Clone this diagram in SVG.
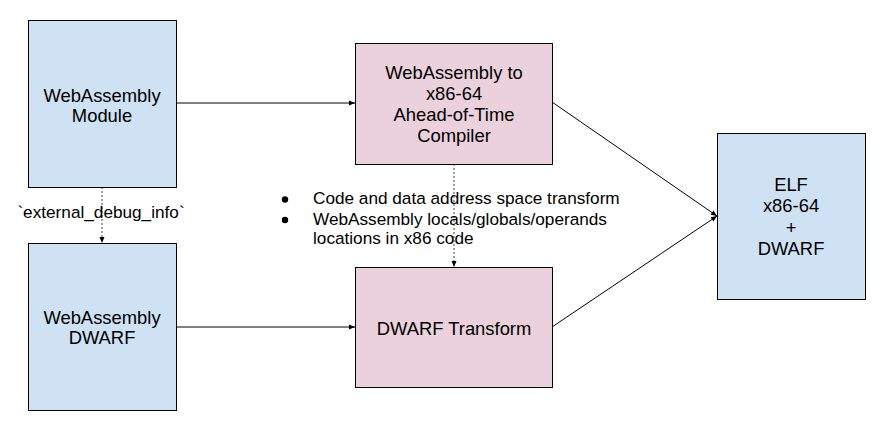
<svg xmlns="http://www.w3.org/2000/svg" width="888" height="444" viewBox="0 0 888 444">
<style>
.blue{fill:#cfe2f3;stroke:#000;stroke-width:1}
.pink{fill:#ead1dc;stroke:#000;stroke-width:1}
.bt{font-family:"Liberation Sans",Arial,sans-serif;font-size:18.4px;fill:#000;text-anchor:middle}
.st{font-family:"Liberation Sans",Arial,sans-serif;font-size:17.2px;fill:#000}
.ln{stroke:#000;stroke-width:1;fill:none}
.dl{stroke:#444;stroke-width:1;fill:none;stroke-dasharray:2,2}
</style>
<defs>
<marker id="ah" markerUnits="userSpaceOnUse" markerWidth="8" markerHeight="8" viewBox="0 0 8 8" refX="7" refY="4" orient="auto">
<path d="M1,1.5 L7,4 L1,6.5 Z" fill="#000"/>
</marker>
</defs>
<rect width="888" height="444" fill="#fff"/>
<g id="connectors">
<line class="ln" x1="176" y1="103" x2="355" y2="103" marker-end="url(#ah)"/>
<line class="ln" x1="176" y1="327" x2="355" y2="327" marker-end="url(#ah)"/>
<line class="ln" x1="552" y1="102" x2="717" y2="216" marker-end="url(#ah)"/>
<line class="ln" x1="552" y1="327" x2="717" y2="216" marker-end="url(#ah)"/>
<line class="dl" x1="102" y1="187" x2="102" y2="243" marker-end="url(#ah)"/>
<line class="dl" x1="454" y1="164" x2="454" y2="267" marker-end="url(#ah)"/>
<text class="st" x="101" y="218" text-anchor="middle">`external_debug_info`</text>
</g>
<g id="wasm-module">
<rect class="blue" x="28.5" y="20.5" width="148" height="167"/>
<text class="bt" x="102" y="101.7">WebAssembly</text>
<text class="bt" x="102" y="121.7">Module</text>
</g>
<g id="wasm-dwarf">
<rect class="blue" x="28.5" y="243.5" width="148" height="167"/>
<text class="bt" x="102" y="324.3">WebAssembly</text>
<text class="bt" x="102" y="344.3">DWARF</text>
</g>
<g id="compiler">
<rect class="pink" x="355.5" y="43.5" width="197" height="121"/>
<text class="bt" x="454" y="78.5">WebAssembly to</text>
<text class="bt" x="454" y="99.5">x86-64</text>
<text class="bt" x="454" y="120.8">Ahead-of-Time</text>
<text class="bt" x="454" y="141.7">Compiler</text>
</g>
<g id="dwarf-transform">
<rect class="pink" x="355.5" y="267.5" width="197" height="120"/>
<text class="bt" x="454" y="334.6">DWARF Transform</text>
</g>
<g id="elf">
<rect class="blue" x="717.5" y="133.5" width="148" height="166"/>
<text class="bt" x="791" y="190.7">ELF</text>
<text class="bt" x="791" y="212">x86-64</text>
<text class="bt" x="791" y="233.5">+</text>
<text class="bt" x="791" y="255">DWARF</text>
</g>
<g id="notes">
<circle cx="285" cy="199.5" r="3.2" fill="#000"/>
<circle cx="285" cy="220" r="3.2" fill="#000"/>
<text class="st" x="313" y="204">Code and data address space transform</text>
<text class="st" x="313" y="224.5">WebAssembly locals/globals/operands</text>
<text class="st" x="313" y="244">locations in x86 code</text>
</g>
</svg>
